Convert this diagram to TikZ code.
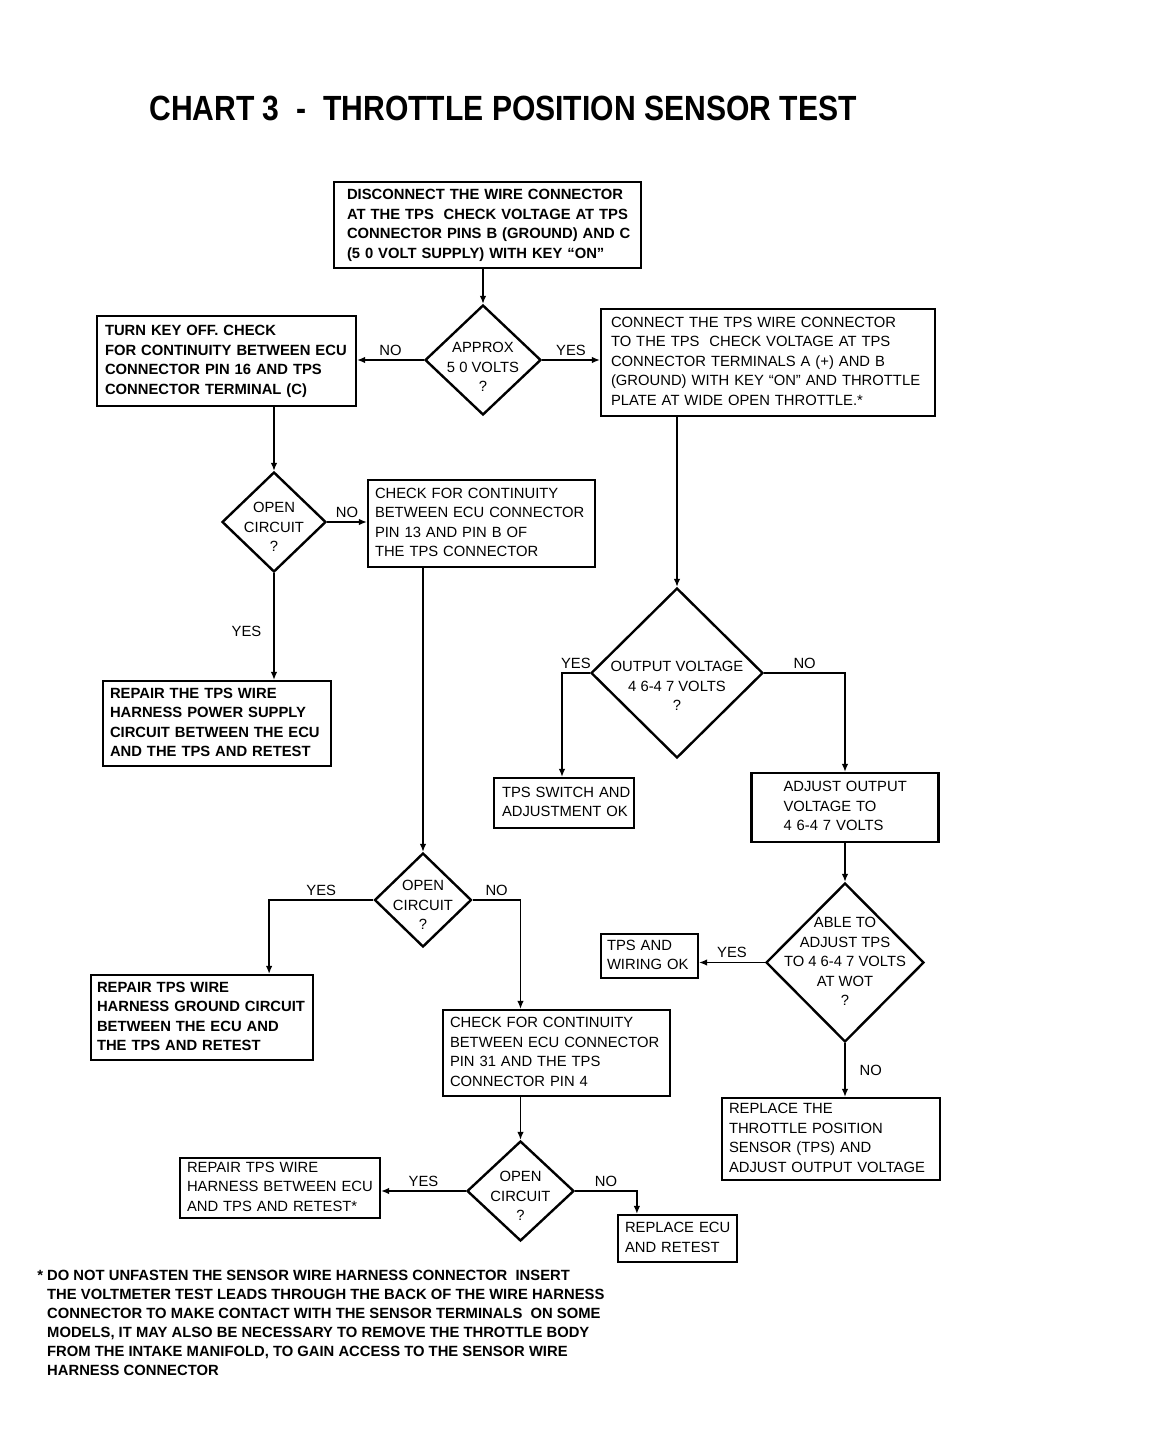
\documentclass[tikz,border=0pt]{standalone}
\usepackage{fontspec}
\setmainfont{Liberation Sans}
\usetikzlibrary{shapes.geometric,arrows.meta,positioning}
\newcommand{\chartfont}{\fontsize{14.8}{19.5}\selectfont}
\newcommand{\notefont}{\fontsize{14.8}{19}\selectfont\bfseries}
\newcommand{\rows}[1]{\begin{tabular}{@{}l@{}}#1\end{tabular}}
\newcommand{\qtext}[2][10pt]{\smash{\makebox[0pt]{\raisebox{-#1}{\begin{tabular}{@{}c@{}}#2\end{tabular}}}}}
\tikzstyle{arrow} = [line width=1.4pt,->,>={Latex[length=8pt,width=6.5pt]}]
\tikzstyle{box} = [draw, line width=2.2pt, align=left, inner xsep=7pt, inner ysep=0pt, font=\chartfont]
\tikzstyle{decision} = [draw, diamond, line width=2.4pt, inner sep=0pt, font=\chartfont]
\tikzstyle{answer} = [font=\chartfont, inner sep=4pt]

\begin{document}
\begin{tikzpicture}[x=1pt,y=-1pt]
    \useasboundingbox (0,0) rectangle (1174,1454);
    \node[font=\bfseries] (title) at (503,108) {\scalebox{0.86}[1]{\fontsize{35}{40}\selectfont CHART 3\ \ -\ \ THROTTLE POSITION SENSOR TEST}};

    % boxes
    \node[box, font=\chartfont\bfseries, inner xsep=13pt, text width=281pt, minimum height=86pt] (supply) at (487.5,225)
        {\rows{DISCONNECT THE WIRE CONNECTOR\\AT THE TPS\ \ CHECK VOLTAGE AT TPS\\CONNECTOR PINS B (GROUND) AND C\\(5 0 VOLT SUPPLY) WITH KEY ``ON''}};
    \node[box, font=\chartfont\bfseries, inner xsep=8pt, text width=243pt, minimum height=90pt] (pin16) at (226.5,361)
        {\rows{TURN KEY OFF. CHECK\\FOR CONTINUITY BETWEEN ECU\\CONNECTOR PIN 16 AND TPS\\CONNECTOR TERMINAL (C)}};
    \node[box, inner xsep=10pt, text width=314pt, minimum height=107pt] (wot) at (768,362.5)
        {\rows{CONNECT THE TPS WIRE CONNECTOR\\TO THE TPS\ \ CHECK VOLTAGE AT TPS\\CONNECTOR TERMINALS A (+) AND B\\(GROUND) WITH KEY ``ON'' AND THROTTLE\\PLATE AT WIDE OPEN THROTTLE.*}};
    \node[box, text width=213pt, minimum height=87pt] (pin13) at (481.5,523.5)
        {\rows{CHECK FOR CONTINUITY\\BETWEEN ECU CONNECTOR\\PIN 13 AND PIN B OF\\THE TPS CONNECTOR}};
    \node[box, font=\chartfont\bfseries, text width=214pt, minimum height=85pt] (power) at (217,723.5)
        {\rows{REPAIR THE TPS WIRE\\HARNESS POWER SUPPLY\\CIRCUIT BETWEEN THE ECU\\AND THE TPS AND RETEST}};
    \node[box, inner xsep=8pt, text width=124pt, minimum height=50pt] (switchok) at (564,803)
        {\rows{TPS SWITCH AND\\ADJUSTMENT OK}};
    \node[box, inner xsep=32pt, text width=123pt, minimum height=69pt] (adjust) at (845,807.5)
        {\rows{ADJUST OUTPUT\\VOLTAGE TO\\4 6-4 7 VOLTS}};
    \node[box, inner xsep=6pt, text width=85pt, minimum height=44pt] (wiringok) at (649.5,956)
        {\rows{TPS AND\\WIRING OK}};
    \node[box, text width=204pt, minimum height=82pt] (replace) at (831,1139)
        {\rows{REPLACE THE\\THROTTLE POSITION\\SENSOR (TPS) AND\\ADJUST OUTPUT VOLTAGE}};
    \node[box, font=\chartfont\bfseries, inner xsep=6pt, text width=210pt, minimum height=85pt] (ground) at (202,1017.5)
        {\rows{REPAIR TPS WIRE\\HARNESS GROUND CIRCUIT\\BETWEEN THE ECU AND\\THE TPS AND RETEST}};
    \node[box, text width=213pt, minimum height=86pt] (pin31) at (556.5,1053)
        {\rows{CHECK FOR CONTINUITY\\BETWEEN ECU CONNECTOR\\PIN 31 AND THE TPS\\CONNECTOR PIN 4}};
    \node[box, inner xsep=7pt, text width=186pt, minimum height=60pt] (harness) at (280,1188)
        {\rows{REPAIR TPS WIRE\\HARNESS BETWEEN ECU\\AND TPS AND RETEST*}};
    \node[box, inner xsep=7pt, text width=105pt, minimum height=47pt] (newecu) at (677.5,1238.5)
        {\rows{REPLACE ECU\\AND RETEST}};

    % decisions
    \node[decision, minimum width=116pt, minimum height=110pt] (volts) at (483,360) {\qtext[12pt]{APPROX\\5 0 VOLTS\\?}};
    \node[decision, minimum width=104pt, minimum height=100pt] (circ1) at (274,522) {\qtext{OPEN\\CIRCUIT\\?}};
    \node[decision, minimum width=172pt, minimum height=170pt] (output) at (677,673) {\qtext[18pt]{OUTPUT VOLTAGE\\4 6-4 7 VOLTS\\?}};
    \node[decision, minimum width=158pt, minimum height=159pt] (able) at (845,962.5) {\qtext[4pt]{ABLE TO\\ADJUST TPS\\TO 4 6-4 7 VOLTS\\AT WOT\\?}};
    \node[decision, minimum width=97pt, minimum height=94pt] (circ2) at (423,900) {\qtext{OPEN\\CIRCUIT\\?}};
    \node[decision, minimum width=107pt, minimum height=100pt] (circ3) at (520.5,1191) {\qtext{OPEN\\CIRCUIT\\?}};

    % connectors
    \draw[arrow] (supply.south -| volts) -- (volts.north);
    \draw[arrow] (volts.west) -- node[answer, above]{NO} (volts.west -| pin16.east);
    \draw[arrow] (volts.east) -- node[answer, above]{YES} (volts.east -| wot.west);
    \draw[arrow] (circ1 |- pin16.south) -- (circ1.north);
    \draw[arrow] (circ1.east) -- node[answer, above]{NO} (circ1.east -| pin13.west);
    \draw[arrow] (circ1.south) -- node[answer, left, xshift=-8pt, yshift=-5pt]{YES} (circ1.south |- power.north);
    \draw[arrow] (circ2 |- pin13.south) -- (circ2.north);
    \draw[arrow] (output |- wot.south) -- (output.north);
    \draw[arrow] (output.west) -| node[answer, pos=0.25, above]{YES} ([xshift=-2pt]switchok.north);
    \draw[arrow] (output.east) -| node[answer, pos=0.25, above]{NO} (adjust.north);
    \draw[arrow] (adjust.south) -- (able.north);
    \draw[arrow] (able.west) -- node[answer, above]{YES} (able.west -| wiringok.east);
    \draw[arrow] (able.south) -- node[answer, right, xshift=10pt]{NO} (able.south |- replace.north);
    \draw[arrow] (circ2.west) -| node[answer, pos=0.25, above]{YES} ([xshift=-45pt]ground.north east);
    \draw[arrow] (circ2.east) -| node[answer, pos=0.25, above]{NO} (circ3 |- pin31.north);
    \draw[arrow] (circ3 |- pin31.south) -- (circ3.north);
    \draw[arrow] (circ3.west) -- node[answer, above]{YES} (circ3.west -| harness.east);
    \draw[arrow] (circ3.east) -| node[answer, pos=0.25, above]{NO} ([xshift=20pt]newecu.north west);

    \node[anchor=north west, align=left, font=\notefont, inner sep=0pt] (note) at (47,1270)
        {\llap{*\ }DO NOT UNFASTEN THE SENSOR WIRE HARNESS CONNECTOR\ \ INSERT\\
         THE VOLTMETER TEST LEADS THROUGH THE BACK OF THE WIRE HARNESS\\
         CONNECTOR TO MAKE CONTACT WITH THE SENSOR TERMINALS\ \ ON SOME\\
         MODELS, IT MAY ALSO BE NECESSARY TO REMOVE THE THROTTLE BODY\\
         FROM THE INTAKE MANIFOLD, TO GAIN ACCESS TO THE SENSOR WIRE\\
         HARNESS CONNECTOR};
\end{tikzpicture}
\end{document}
